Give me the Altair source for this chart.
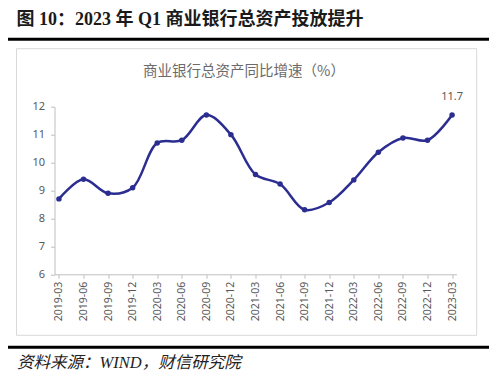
import altair as alt
import pandas as pd

quarters = ["2019-03", "2019-06", "2019-09", "2019-12", "2020-03", "2020-06", "2020-09", "2020-12",
            "2021-03", "2021-06", "2021-09", "2021-12", "2022-03", "2022-06", "2022-09", "2022-12", "2023-03"]
growth = [8.7, 9.4, 8.9, 9.1, 10.7, 10.8, 11.7, 11.0, 9.57, 9.23, 8.31, 8.57, 9.38, 10.37, 10.88, 10.8, 11.7]
y_ticks = [6, 7, 8, 9, 10, 11, 12]

fig_title = "图 10：2023 年 Q1 商业银行总资产投放提升"
chart_title = "商业银行总资产同比增速（%）"
source_note = "资料来源：WIND，财信研究院"
last_label = "11.7"

df = pd.DataFrame({"q": quarters, "v": growth})
df_last = df.tail(1).assign(lbl=last_label)

LINE = "#2B2D90"
GRAY_TXT = "#595959"
AXIS = "#BFBFBF"
FONT = "Noto Sans"
CJK = "Noto Sans CJK SC"
SERIF_CJK = "Liberation Serif, Noto Sans CJK SC"

x_axis = alt.Axis(title=None, labelAngle=-90, labelFontSize=10.5, labelColor=GRAY_TXT,
                  labelFont=FONT, domainColor=AXIS, tickColor=AXIS, tickSize=4,
                  labelPadding=3, grid=False, labelOverlap=False)
y_axis = alt.Axis(title=None, values=y_ticks, labelFontSize=11, labelColor=GRAY_TXT,
                  labelFont=FONT, domainColor=AXIS, tickColor=AXIS, tickSize=4,
                  labelPadding=6, grid=False, labelOverlap=False)
x_enc = alt.X("q:N", sort=quarters, scale=alt.Scale(type="point", padding=0.18), axis=x_axis)
y_enc = alt.Y("v:Q", scale=alt.Scale(domain=[6, 12], nice=False, zero=False), axis=y_axis)

base = alt.Chart(df)
line = base.mark_line(color=LINE, strokeWidth=2.5, interpolate="catmull-rom").encode(x=x_enc, y=y_enc)
pts = base.mark_point(filled=True, color=LINE, size=30, opacity=1).encode(x=x_enc, y=y_enc)
lab = alt.Chart(df_last).mark_text(color=GRAY_TXT, fontSize=11, font=FONT, dy=-18).encode(
    x=x_enc, y=y_enc, text="lbl:N")

deco = alt.Chart(pd.DataFrame({"d": [0]}))
title_t = deco.mark_text(text=fig_title, font=SERIF_CJK, fontWeight="bold", fontSize=18, align="left",
                         baseline="middle", color="#1a1a1a").encode(x=alt.value(-38), y=alt.value(-87))
rule_top = deco.mark_rule(color="#000000", strokeWidth=3).encode(
    x=alt.value(-50.5), x2=alt.value(434.5), y=alt.value(-67.5))
box = deco.mark_rect(fill=None, filled=False, stroke="#D9D9D9", strokeWidth=1).encode(
    x=alt.value(-38), x2=alt.value(422.2), y=alt.value(-58), y2=alt.value(228.6))
ctitle = deco.mark_text(text=chart_title, font=CJK, fontSize=14.5, color="#6b6b6b",
                        baseline="middle").encode(x=alt.value(189.5), y=alt.value(-35))
rule_bot = deco.mark_rule(color="#000000", strokeWidth=3).encode(
    x=alt.value(-50.5), x2=alt.value(434.5), y=alt.value(240.6))
src = deco.mark_text(text=source_note, font=SERIF_CJK, fontSize=16.5, fontStyle="italic", align="left",
                     baseline="middle", color="#222222").encode(x=alt.value(-37.5), y=alt.value(256.5))

chart = alt.layer(box, line, pts, lab, title_t, rule_top, ctitle, rule_bot, src).properties(
    width=402, height=167.6,
    autosize=alt.AutoSizeParams(type="none"),
    padding={"left": 46.5, "top": 98.7, "right": 35.5, "bottom": 100.7},
    background="white",
).configure_view(stroke=None)

chart.save("out.html", embed_options={"renderer": "svg", "actions": False})
